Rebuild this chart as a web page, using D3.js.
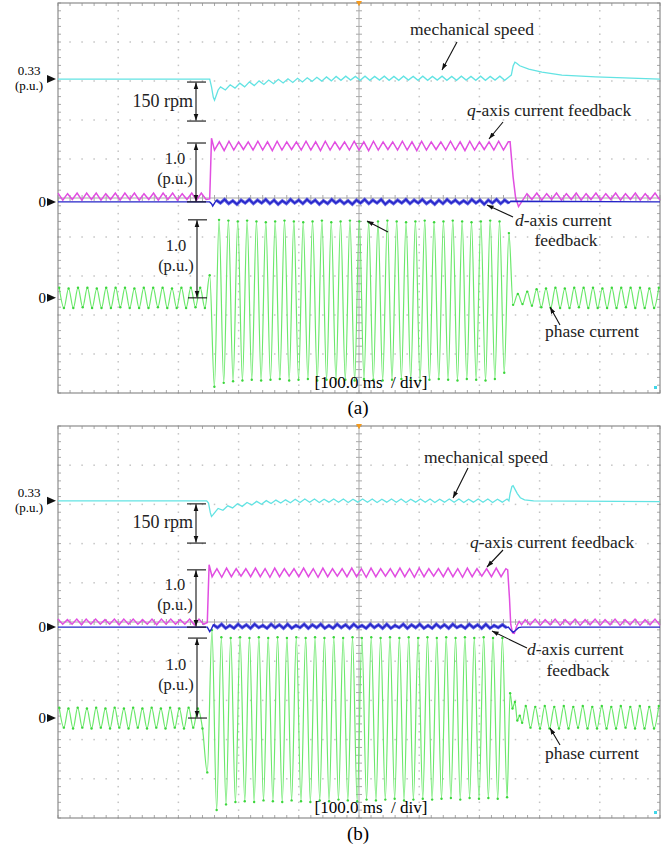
<!DOCTYPE html>
<html>
<head>
<meta charset="utf-8">
<script src="https://cdn.jsdelivr.net/npm/d3@7"></script>
<style>
  body { margin: 0; background: #fff; }
  svg { display: block; }
  text { font-family: "Liberation Serif", "Times New Roman", serif; }
</style>
</head>
<body>
<div id="chart"></div>
<script>
// ---------------------------------------------------------------
// Data read off the two scope captures. Time in ms (10 div x 100 ms),
// currents in p.u., speed in rpm (0.33 p.u. ~ 500 rpm).
// Oscillating parts are lists of successive extremes spread evenly
// over the given time window.
// ---------------------------------------------------------------

// ----- panel (a) -----
const phaseA_windows = [[2, 244], [252, 749], [756, 998]];
const phaseA_pre = [
    0.13, -0.13, 0.12, -0.13, 0.13, -0.12, 0.13, -0.13,
    0.12, -0.13, 0.13, -0.13, 0.13, -0.12, 0.13, -0.13,
    0.12, -0.13, 0.13, -0.13, 0.13, -0.12, 0.13, -0.13,
    0.12, -0.13, 0.13, -0.13, 0.13, -0.12, 0.13, -0.13
];
const phaseA_load = [
    0.29, -1.14, 1.00, -1.09, 0.99, -1.07, 0.98, -1.06, 0.99, -1.05,
    0.98, -1.06, 0.97, -1.05, 0.98, -1.04, 0.99, -1.06, 0.98, -1.05,
    0.97, -1.04, 0.98, -1.06, 0.99, -1.05, 0.97, -1.04, 0.98, -1.05,
    0.99, -1.06, 0.98, -1.04, 0.97, -1.05, 0.98, -1.06, 0.99, -1.05,
    0.98, -1.04, 0.97, -1.05, 0.98, -1.06, 0.99, -1.05, 0.97, -1.04,
    0.98, -1.05, 0.99, -1.06, 0.98, -1.04, 0.97, -1.05, 0.98, -1.06,
    0.99, -1.04, 0.98, -0.96, 0.83
];
const phaseA_post = [
    -0.09, 0.05, -0.08, 0.08, -0.10, 0.11, -0.12, 0.12,
    -0.13, 0.13, -0.13, 0.12, -0.13, 0.13, -0.12, 0.13,
    -0.13, 0.13, -0.13, 0.12, -0.13, 0.13, -0.13, 0.13,
    -0.12, 0.13, -0.13, 0.13, -0.13, 0.12, -0.13, 0.13
];

const qA_windows = [[0, 246], [260, 748], [779, 1000]];
const qA_pre = [
    0.15, 0.03, 0.14, 0.04, 0.15, 0.03, 0.15, 0.04,
    0.15, 0.03, 0.14, 0.04, 0.15, 0.03, 0.15, 0.04,
    0.15, 0.03, 0.14, 0.04, 0.15, 0.03, 0.15, 0.04,
    0.15, 0.03, 0.14, 0.04, 0.15, 0.03, 0.15, 0.04
];
const qA_step = [[252, 0.05], [255, 1.08]];
const qA_load = [
    0.88, 1.02, 0.87, 1.03, 0.88, 1.02, 0.89, 1.02, 0.88, 1.03,
    0.88, 1.02, 0.87, 1.03, 0.88, 1.02, 0.89, 1.02, 0.88, 1.03,
    0.88, 1.02, 0.87, 1.03, 0.88, 1.02, 0.89, 1.02, 0.88, 1.03,
    0.88, 1.02, 0.87, 1.03, 0.88, 1.02, 0.89, 1.02, 0.88, 1.03,
    0.88, 1.02, 0.87, 1.03, 0.88, 1.02, 0.89, 1.02, 0.88, 1.03,
    0.88, 1.02, 0.87, 1.03, 0.88, 1.02, 0.89, 1.02, 0.88, 1.03,
    0.88, 1.02
];
const qA_drop = [[751, 1.02], [756, 0.42], [760, 0.08], [765, -0.08], [772, 0.03]];
const qA_post = [
    0.14, 0.04, 0.15, 0.03, 0.14, 0.04, 0.15, 0.03, 0.14, 0.04,
    0.15, 0.03, 0.14, 0.04, 0.15, 0.03, 0.14, 0.04, 0.15, 0.03,
    0.14, 0.04, 0.15, 0.03, 0.14, 0.04, 0.15, 0.03
];

const dA_window = [263, 749];
const dA_before = [[0, 0], [252, 0], [255, -0.03], [257, -0.07], [260, -0.02]];
const dA_noise = [
    0.03, -0.02, 0.04, -0.03, 0.02, -0.04, 0.03, -0.02, 0.04, -0.03, 0.03, -0.02,
    0.04, -0.03, 0.03, -0.04, 0.02, -0.03, 0.04, -0.02, 0.03, -0.03, 0.04, -0.02,
    0.03, -0.04, 0.02, -0.03, 0.04, -0.02, 0.03, -0.03, 0.02, -0.04, 0.03, -0.02,
    0.04, -0.03, 0.03, -0.02, 0.04, -0.04, 0.02, -0.03, 0.03, -0.02, 0.04, -0.03,
    0.03, -0.02, 0.04, -0.03, 0.02, -0.04, 0.03, -0.03, 0.04, -0.02, 0.03, -0.03,
    0.02, -0.03, 0.04, -0.02, 0.03, -0.04, 0.03, -0.02, 0.04, -0.03, 0.03, -0.02
];
const dA_after = [[752, 0.01], [1000, 0]];

const speedA_dip = [[0, 500], [252, 500], [255, 470], [258, 430], [260, 419], [263, 438], [266, 458]];
const speedA_window = [270, 750];
const speedA_ripple = [
    470, 458, 478, 465, 484, 470, 489, 475, 493, 479, 496, 482,
    499, 485, 501, 487, 503, 489, 505, 491, 507, 492, 508, 493,
    510, 495, 511, 496, 510, 495, 511, 495, 510, 496,
    511, 495, 510, 495, 511, 496, 510, 495, 511, 495,
    510, 496, 511, 495, 510, 495, 511, 496, 510, 495,
    511, 495, 510, 496, 511, 495, 510
];
const speedA_spike = [[753, 515], [756, 550], [759, 565], [762, 561], [767, 551], [782, 538],
    [804, 527], [837, 515], [893, 508], [1000, 500]];

// ----- panel (b) -----
const phaseB_windows = [[2, 240], [248, 746], [777, 998]];
const phaseB_pre = [
    0.13, -0.12, 0.12, -0.13, 0.13, -0.12, 0.12, -0.13,
    0.13, -0.12, 0.12, -0.13, 0.13, -0.12, 0.12, -0.13,
    0.13, -0.12, 0.12, -0.13, 0.13, -0.12, 0.12, -0.13,
    0.13, -0.12, 0.12, -0.13, 0.13, -0.12, 0.12, -0.13
];
const phaseB_load = [
    -0.68, 1.10, -1.15, 1.01, -1.08, 1.00, -1.05, 1.01, -1.04, 1.00,
    -1.05, 1.01, -1.03, 1.00, -1.04, 1.01, -1.05, 1.00, -1.03, 1.01,
    -1.04, 1.00, -1.05, 1.01, -1.03, 1.00, -1.04, 1.01, -1.02, 1.00,
    -1.03, 1.01, -1.04, 1.00, -1.02, 1.01, -1.03, 1.00, -1.02, 1.01,
    -1.01, 1.00, -1.03, 1.01, -1.02, 1.00, -1.01, 1.01, -1.02, 1.00,
    -1.01, 1.01, -1.00, 1.00, -1.02, 1.01, -1.00, 1.00, -1.01, 1.01,
    -1.00, 1.00, -1.01, 1.00, -0.99
];
const phaseB_settle = [[751, 0.31], [755, 0.12], [759, 0.20], [763, -0.03], [767, 0.03], [771, -0.06]];
const phaseB_post = [
    0.15, -0.12, 0.14, -0.13, 0.15, -0.13, 0.14, -0.13,
    0.15, -0.13, 0.14, -0.12, 0.15, -0.13, 0.14, -0.13,
    0.15, -0.13, 0.14, -0.13, 0.15, -0.12, 0.14, -0.13,
    0.15, -0.13, 0.14, -0.13, 0.15
];

const qB_windows = [[0, 242], [256, 744], [776, 1000]];
const qB_pre = [
    0.14, 0.05, 0.13, 0.05, 0.14, 0.04, 0.14, 0.05,
    0.14, 0.05, 0.13, 0.05, 0.14, 0.04, 0.14, 0.05,
    0.14, 0.05, 0.13, 0.05, 0.14, 0.04, 0.14, 0.05,
    0.14, 0.05, 0.13, 0.05, 0.14, 0.04, 0.14, 0.05
];
const qB_step = [[248, 0.08], [251, 1.09]];
const qB_load = [
    0.88, 1.02, 0.87, 1.03, 0.88, 1.02, 0.89, 1.02, 0.88, 1.03,
    0.88, 1.02, 0.87, 1.03, 0.88, 1.02, 0.89, 1.02, 0.88, 1.03,
    0.88, 1.02, 0.87, 1.03, 0.88, 1.02, 0.89, 1.02, 0.88, 1.03,
    0.88, 1.02, 0.87, 1.03, 0.88, 1.02, 0.89, 1.02, 0.88, 1.03,
    0.88, 1.02, 0.87, 1.03, 0.88, 1.02, 0.89, 1.02, 0.88, 1.03,
    0.88, 1.02, 0.87, 1.03, 0.88, 1.02, 0.89, 1.02, 0.88, 1.03,
    0.88, 1.02
];
const qB_drop = [[747, 1.00], [750, 0.50], [752, 0.05], [755, -0.10], [758, -0.11], [762, 0.02], [766, 0.10], [770, 0.04]];
const qB_post = [
    0.13, 0.04, 0.14, 0.03, 0.13, 0.04, 0.14, 0.03, 0.13, 0.04,
    0.14, 0.03, 0.13, 0.04, 0.14, 0.03, 0.13, 0.04, 0.14, 0.03,
    0.13, 0.04, 0.14, 0.03, 0.13, 0.04, 0.14, 0.03
];

const dB_window = [258, 745];
const dB_before = [[0, 0], [248, 0], [250, -0.04], [252, -0.08], [255, -0.03]];
const dB_noise = [
    0.04, -0.01, 0.05, -0.02, 0.03, -0.02, 0.05, -0.01, 0.04, -0.02, 0.05, -0.01,
    0.03, -0.02, 0.05, -0.01, 0.04, -0.02, 0.05, -0.02, 0.03, -0.01, 0.05, -0.02,
    0.04, -0.01, 0.05, -0.02, 0.03, -0.02, 0.05, -0.01, 0.04, -0.02, 0.05, -0.01,
    0.03, -0.02, 0.05, -0.01, 0.04, -0.02, 0.05, -0.02, 0.03, -0.01, 0.05, -0.02,
    0.04, -0.01, 0.05, -0.02, 0.03, -0.02, 0.05, -0.01, 0.04, -0.02, 0.05, -0.01,
    0.03, -0.02, 0.05, -0.01, 0.04, -0.02, 0.05, -0.02, 0.03, -0.01, 0.04, -0.01
];
const dB_after = [[748, 0.0], [752, -0.05], [756, -0.09], [760, -0.06], [765, -0.01], [770, 0], [1000, 0]];

const speedB_dip = [[0, 500], [247, 500], [250, 492], [253, 455], [255, 440], [258, 448], [262, 460]];
const speedB_window = [266, 746];
const speedB_ripple = [
    471, 464, 481, 473, 489, 479, 494, 484, 498, 487, 501, 490,
    503, 492, 504, 493, 506, 494,
    507, 495, 507, 494, 506, 495, 507, 495, 507, 494,
    506, 495, 507, 495, 507, 494, 506, 495, 507, 495,
    507, 494, 506, 495, 507, 495, 507, 494, 506, 495,
    507, 495, 507, 494, 506, 495, 507, 495, 507, 494,
    506, 495, 507
];
const speedB_spike = [[749, 500], [751, 528], [754, 555], [756, 558], [759, 545], [763, 528],
    [768, 512], [775, 504], [790, 500], [1000, 497]];

// ---------------------------------------------------------------
// Helpers
// ---------------------------------------------------------------

// Put a list of extremes evenly over a time window -> [t, v] pairs
function spread(win, vals) {
    const step = (win[1] - win[0]) / (vals.length - 1);
    return vals.map((v, i) => [win[0] + step * i, v]);
}

// Assemble each trace
const traces = {
    a: {
        phase: [].concat(spread(phaseA_windows[0], phaseA_pre), spread(phaseA_windows[1], phaseA_load),
            spread(phaseA_windows[2], phaseA_post)),
        q: [].concat(spread(qA_windows[0], qA_pre), qA_step, spread(qA_windows[1], qA_load), qA_drop,
            spread(qA_windows[2], qA_post)),
        d: [].concat(dA_before, spread(dA_window, dA_noise), dA_after),
        dBand: spread(dA_window, dA_noise),
        speed: [].concat(speedA_dip, spread(speedA_window, speedA_ripple), speedA_spike)
    },
    b: {
        phase: [].concat(spread(phaseB_windows[0], phaseB_pre), spread(phaseB_windows[1], phaseB_load),
            phaseB_settle, spread(phaseB_windows[2], phaseB_post)),
        q: [].concat(spread(qB_windows[0], qB_pre), qB_step, spread(qB_windows[1], qB_load), qB_drop,
            spread(qB_windows[2], qB_post)),
        d: [].concat(dB_before, spread(dB_window, dB_noise), dB_after),
        dBand: spread(dB_window, dB_noise),
        speed: [].concat(speedB_dip, spread(speedB_window, speedB_ripple), speedB_spike)
    }
};

// Panel layout (screen placement, channel offsets in divisions)
const panels = [
    {
        key: "a", top: 3, bottom: 393,
        speedOff: 3.05, curOff: -0.1, curGain: 1.51, phOff: -2.56, phGain: 2.0,
        mech: [410, 35, 457, 42, 442, 70],
        qlab: [467, 116, 503, 122, 489, 139],
        dlab: [515, 226, 566, 246, 513, 217, 487, 205],
        plab: [545, 337, 560, 325, 550, 307],
        stray: [388, 232, 367, 221],
        divY: 388, caption: 414
    },
    {
        key: "b", top: 426, bottom: 818,
        speedOff: 3.09, curOff: -0.13, curGain: 1.46, phOff: -2.45, phGain: 2.04,
        mech: [424, 463, 468, 468, 453, 498],
        qlab: [470, 548, 503, 550, 487, 567],
        dlab: [527, 655, 578, 676, 527, 648, 492, 631],
        plab: [545, 759, 560, 745, 550, 728],
        stray: null,
        divY: 813, caption: 840
    }
];

const colors = { speed: "#63e3e3", q: "#e14ee1", d: "#2f2fd9", phase: "#6ce86c" };

const W = 672, H = 850;
const svg = d3.select("#chart").append("svg")
    .attr("width", W)
    .attr("height", H);

// Arrow head used by the annotations
svg.append("defs").append("marker")
    .attr("id", "ah")
    .attr("viewBox", "0 0 10 10")
    .attr("refX", 10)
    .attr("refY", 5)
    .attr("markerWidth", 6)
    .attr("markerHeight", 6)
    .attr("orient", "auto-start-reverse")
    .append("path")
    .attr("d", "M0,1.5 L10,5 L0,8.5 Z")
    .attr("fill", "#111");

// Time axis shared by both captures
const x = d3.scaleLinear().domain([0, 1000]).range([58, 660]);

panels.forEach(drawPanel);

function drawPanel(p) {
    const g = svg.append("g");
    const yDiv = d3.scaleLinear().domain([-5, 5]).range([p.bottom, p.top]);

    // Per-channel vertical scales
    const sY = d3.scaleLinear().domain([500, 650]).range([yDiv(p.speedOff), yDiv(p.speedOff + 1)]);
    const cY = d3.scaleLinear().domain([0, 1]).range([yDiv(p.curOff), yDiv(p.curOff + p.curGain)]);
    const pY = d3.scaleLinear().domain([0, 1]).range([yDiv(p.phOff), yDiv(p.phOff + p.phGain)]);

    drawGraticule(g, yDiv);

    // Traces
    const line = (sc, curve) => d3.line().x(d => x(d[0])).y(d => sc(d[1])).curve(curve || d3.curveLinear);
    const tr = traces[p.key];

    // phase current looks sinusoidal, so smooth it between extremes
    g.append("path").datum(tr.phase)
        .attr("fill", "none").attr("stroke", colors.phase).attr("stroke-width", 1.2)
        .attr("d", line(pY, d3.curveMonotoneX));
    g.selectAll(".pk").data(tr.phase).enter().append("circle")
        .attr("cx", d => x(d[0])).attr("cy", d => pY(d[1]))
        .attr("r", 1.2).attr("fill", "#3cd63c");

    g.append("path").datum(tr.speed)
        .attr("fill", "none").attr("stroke", colors.speed).attr("stroke-width", 1.3)
        .attr("d", line(sY));

    g.append("path").datum(tr.q)
        .attr("fill", "none").attr("stroke", colors.q).attr("stroke-width", 1.5)
        .attr("d", line(cY));

    // d-axis: thick noisy band while loaded, thin line otherwise
    g.append("path").datum(tr.dBand)
        .attr("fill", "none").attr("stroke", colors.d).attr("stroke-width", 3.2)
        .attr("stroke-opacity", 0.75)
        .attr("d", line(cY));
    g.append("path").datum(tr.d)
        .attr("fill", "none").attr("stroke", "#2424c8").attr("stroke-width", 1.4)
        .attr("d", line(cY));

    // Trigger marker and the little cyan dot in the corner
    g.append("path")
        .attr("d", `M${x(500) - 3},${p.top - 2} L${x(500) + 3},${p.top - 2} L${x(500)},${p.top + 3} Z`)
        .attr("fill", "#f39a1e");
    g.append("rect")
        .attr("x", 654).attr("y", p.bottom - 7).attr("width", 3).attr("height", 3)
        .attr("fill", "#3fd6e8");

    // Channel reference markers on the left
    const tri = (yy) => `M47,${yy - 4} L56,${yy} L47,${yy + 4} Z`;
    const ys = sY(500), yc = cY(0), yp = pY(0);
    [ys, yc, yp].forEach(yy => g.append("path").attr("d", tri(yy)).attr("fill", "#111"));
    g.append("text").attr("x", 29).attr("y", ys - 4).attr("text-anchor", "middle")
        .style("font-size", "13px").text("0.33");
    g.append("text").attr("x", 29).attr("y", ys + 11).attr("text-anchor", "middle")
        .style("font-size", "13px").text("(p.u.)");
    [yc, yp].forEach(yy => g.append("text").attr("x", 46).attr("y", yy + 5)
        .attr("text-anchor", "end").style("font-size", "15px").text("0"));

    // Dimension arrows: 150 rpm, 1.0 p.u. (dq) and 1.0 p.u. (phase)
    dimArrow(g, 196, sY(500) + 3, sY(350) + 3, ["150 rpm"]);
    dimArrow(g, 196, cY(1), cY(0), ["1.0", "(p.u.)"]);
    dimArrow(g, 197, pY(1), pY(0), ["1.0", "(p.u.)"]);

    // Trace labels with pointer arrows
    label(g, p.mech[0], p.mech[1], "start", [{ t: "mechanical speed" }]);
    pointer(g, p.mech[2], p.mech[3], p.mech[4], p.mech[5]);

    label(g, p.qlab[0], p.qlab[1], "start", [{ t: "q", i: true }, { t: "-axis current feedback" }]);
    pointer(g, p.qlab[2], p.qlab[3], p.qlab[4], p.qlab[5]);

    label(g, p.dlab[0], p.dlab[1], "start", [{ t: "d", i: true }, { t: "-axis current" }]);
    label(g, p.dlab[2], p.dlab[3], "middle", [{ t: "feedback" }]);
    pointer(g, p.dlab[4], p.dlab[5], p.dlab[6], p.dlab[7]);

    label(g, p.plab[0], p.plab[1], "start", [{ t: "phase current" }]);
    pointer(g, p.plab[2], p.plab[3], p.plab[4], p.plab[5]);

    if (p.stray) pointer(g, p.stray[0], p.stray[1], p.stray[2], p.stray[3]);

    // Time base and caption
    g.append("text").attr("x", 371).attr("y", p.divY).attr("text-anchor", "middle")
        .style("font-size", "17px").style("white-space", "pre")
        .text("[100.0 ms  / div]");
    g.append("text").attr("x", 358).attr("y", p.caption).attr("text-anchor", "middle")
        .style("font-size", "19px").text(`(${p.key})`);
}

// Scope graticule: frame, dotted divisions, centre cross and edge ticks
function drawGraticule(g, yDiv) {
    const L = x(0), R = x(1000), T = yDiv(5), B = yDiv(-5);
    const minorT = d3.range(0, 1000.01, 20);
    const minorY = d3.range(-5, 5.01, 0.2);
    const dots = [];
    d3.range(100, 1000, 100).filter(t => t !== 500).forEach(t => {
        minorY.forEach(v => dots.push([x(t), yDiv(v)]));
    });
    d3.range(-4, 5, 1).filter(v => v !== 0).forEach(v => {
        minorT.forEach(t => dots.push([x(t), yDiv(v)]));
    });
    g.selectAll(".dot").data(dots).enter().append("rect")
        .attr("x", d => d[0] - 0.75).attr("y", d => d[1] - 0.75)
        .attr("width", 1.5).attr("height", 1.5)
        .attr("fill", "#c4c4c4");

    const grid = g.append("g").attr("stroke", "#a8a8a8").attr("stroke-width", 1);
    // centre cross
    grid.append("line").attr("x1", x(500)).attr("x2", x(500)).attr("y1", T).attr("y2", B);
    grid.append("line").attr("x1", L).attr("x2", R).attr("y1", yDiv(0)).attr("y2", yDiv(0));
    minorY.forEach(v => {
        const yy = yDiv(v);
        grid.append("line").attr("x1", x(500) - 3).attr("x2", x(500) + 3).attr("y1", yy).attr("y2", yy);
        grid.append("line").attr("x1", L).attr("x2", L + 3).attr("y1", yy).attr("y2", yy);
        grid.append("line").attr("x1", R - 3).attr("x2", R).attr("y1", yy).attr("y2", yy);
    });
    minorT.forEach(t => {
        const xx = x(t);
        grid.append("line").attr("x1", xx).attr("x2", xx).attr("y1", yDiv(0) - 3).attr("y2", yDiv(0) + 3);
        grid.append("line").attr("x1", xx).attr("x2", xx).attr("y1", T).attr("y2", T + 3);
        grid.append("line").attr("x1", xx).attr("x2", xx).attr("y1", B - 3).attr("y2", B);
    });
    g.append("rect")
        .attr("x", L).attr("y", T).attr("width", R - L).attr("height", B - T)
        .attr("fill", "none").attr("stroke", "#8c8c8c").attr("stroke-width", 1.2);
}

// Vertical double arrow with end caps and a text label to its left
function dimArrow(g, xx, y1, y2, lines) {
    g.append("line").attr("x1", xx - 9).attr("x2", xx + 10).attr("y1", y1).attr("y2", y1)
        .attr("stroke", "#111").attr("stroke-width", 1.1);
    g.append("line").attr("x1", xx - 9).attr("x2", xx + 10).attr("y1", y2).attr("y2", y2)
        .attr("stroke", "#111").attr("stroke-width", 1.1);
    g.append("line").attr("x1", xx).attr("x2", xx).attr("y1", y1 + 0.5).attr("y2", y2 - 0.5)
        .attr("stroke", "#111").attr("stroke-width", 1.1)
        .attr("marker-start", "url(#ah)").attr("marker-end", "url(#ah)");
    const mid = (y1 + y2) / 2;
    if (lines.length === 1) {
        g.append("text").attr("x", xx - 3).attr("y", mid + 5).attr("text-anchor", "end")
            .style("font-size", "18px").attr("fill", "#222").text(lines[0]);
    } else {
        g.append("text").attr("x", xx - 21).attr("y", mid - 8).attr("text-anchor", "middle")
            .style("font-size", "16.5px").attr("fill", "#222").text(lines[0]);
        g.append("text").attr("x", xx - 21).attr("y", mid + 12).attr("text-anchor", "middle")
            .style("font-size", "16.5px").attr("fill", "#222").text(lines[1]);
    }
}

function label(g, xx, yy, anchor, parts) {
    const t = g.append("text").attr("x", xx).attr("y", yy).attr("text-anchor", anchor)
        .style("font-size", "17.5px").attr("fill", "#222");
    parts.forEach(s => {
        t.append("tspan").style("font-style", s.i ? "italic" : "normal").text(s.t);
    });
}

function pointer(g, x1, y1, x2, y2) {
    g.append("line").attr("x1", x1).attr("y1", y1).attr("x2", x2).attr("y2", y2)
        .attr("stroke", "#111").attr("stroke-width", 1.1)
        .attr("marker-end", "url(#ah)");
}
</script>
</body>
</html>
